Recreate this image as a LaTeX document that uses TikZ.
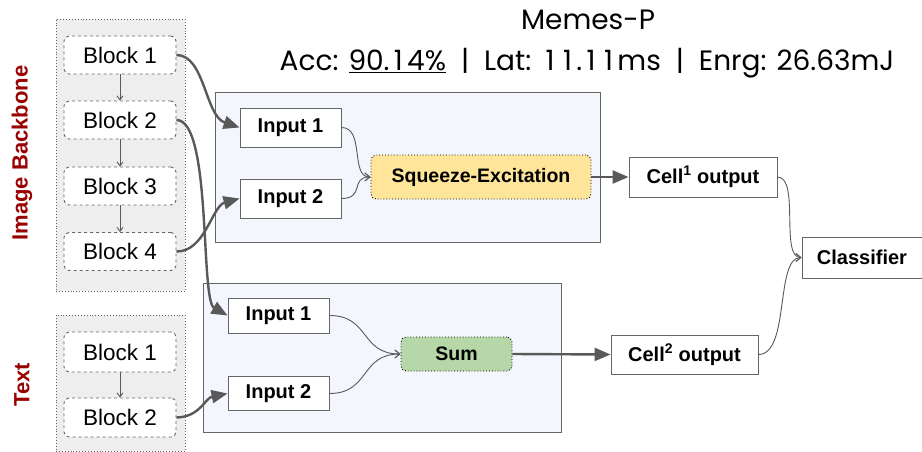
\documentclass[tikz,border=0pt]{standalone}
\usepackage{fontspec}
\setmainfont{Liberation Sans}
\newfontfamily\titlefont{Poppins}
\usetikzlibrary{arrows.meta}
\newlength\digw
\newcommand\wone{\makebox[\digw]{1}}
\definecolor{agray}{HTML}{595959}
\definecolor{bgray}{HTML}{666666}
\definecolor{grpfill}{HTML}{EEEEEE}
\definecolor{cellfill}{HTML}{F3F6FC}
\definecolor{sefill}{HTML}{FFE599}
\definecolor{sumfill}{HTML}{B6D7A8}
\definecolor{darkred}{HTML}{990000}
\tikzset{
  grp/.style={draw=bgray, dotted, line width=0.9pt, fill=grpfill},
  blockbox/.style={draw=bgray, dashed, line width=0.9pt, fill=white, rounded corners=5pt,
    minimum width=112pt, minimum height=38pt, inner sep=0pt, font=\fontsize{22.5}{25}\selectfont},
  cellbox/.style={draw=bgray, line width=0.9pt, fill=cellfill},
  inbox/.style={draw=bgray, line width=0.9pt, fill=white, minimum width=101pt, inner sep=0pt,
    font=\bfseries\fontsize{20}{23}\selectfont},
  opbox/.style={draw=black, dotted, line width=0.9pt, rounded corners=5pt, inner sep=0pt,
    font=\bfseries\fontsize{19.5}{22}\selectfont},
  outbox/.style={draw=bgray, line width=0.9pt, fill=white, inner sep=0pt,
    font=\bfseries\fontsize{20}{23}\selectfont},
  sidelabel/.style={rotate=90, text=darkred, font=\bfseries\fontsize{22}{24}\selectfont},
  bigarrow/.style={draw=agray, line width=2.4pt, -{Triangle[length=16pt,width=13pt]}},
  thinarrow/.style={draw=agray, line width=0.9pt, -{Straight Barb[length=5pt,width=8pt]}},
  vararrow/.style={draw=agray, line width=0.9pt, -{Straight Barb[length=4pt,width=6pt]}},
}
\begin{document}
\begin{tikzpicture}[x=1pt, y=-1pt]
\useasboundingbox (0,0) rectangle (922,452);
% groups
\node[grp, minimum width=129pt, minimum height=272pt] (g1) at (120.5,155) {};
\node[grp, minimum width=129pt, minimum height=136pt] (g2) at (120.5,383) {};
\node[sidelabel] (lblimg) at (22,153) {Image Backbone};
\node[sidelabel] (lbltxt) at (22,385) {Text};
% image blocks
\node[blockbox] (b1) at (120,55) {Block 1};
\node[blockbox] (b2) at (120,120) {Block 2};
\node[blockbox] (b3) at (120,186) {Block 3};
\node[blockbox] (b4) at (120,251.5) {Block 4};
% text blocks
\node[blockbox, minimum height=40pt] (t1) at (120,352) {Block 1};
\node[blockbox, minimum height=39pt] (t2) at (120,417.5) {Block 2};
\draw[vararrow] (b1) -- (b2);
\draw[vararrow] (b2) -- (b3);
\draw[vararrow] (b3) -- (b4);
\draw[vararrow] (t1) -- (t2);
% cell 1
\node[cellbox, minimum width=385pt, minimum height=150pt] (c1) at (407.5,167) {};
\node[inbox, minimum height=39pt] (c1i1) at (290.5,127.5) {Input 1};
\node[inbox, minimum height=39pt] (c1i2) at (290.5,198.5) {Input 2};
\node[opbox, fill=sefill, minimum width=220pt, minimum height=44pt] (se) at (481,177) {Squeeze-Excitation};
% cell 2
\node[cellbox, minimum width=358pt, minimum height=149pt] (c2) at (382,357.5) {};
\node[inbox, minimum height=35pt] (c2i1) at (278.5,315.5) {Input 1};
\node[inbox, minimum height=34pt] (c2i2) at (278.5,393.5) {Input 2};
\node[opbox, fill=sumfill, minimum width=111pt, minimum height=34pt] (sum) at (456.5,354) {Sum};
% outputs
\node[outbox, minimum width=148pt, minimum height=40pt] (o1) at (703,177) {Cell\textsuperscript{1} output};
\node[outbox, minimum width=147pt, minimum height=39pt] (o2) at (684.5,354.5) {Cell\textsuperscript{2} output};
\node[outbox, minimum width=120pt, minimum height=41pt] (cls) at (862,257.5) {Classifier};
% title
\node[font=\titlefont\fontsize{28}{32}\selectfont] (title) at (588,20) {Memes-P};
\node[font=\titlefont\fontsize{28}{32}\selectfont] (metrics) at (587,63) {\settowidth{\digw}{0}Acc: \underline{90.\wone4\%}\ \ |\ \ Lat: \wone\wone.\wone\wone ms\ \ |\ \ Enrg: 26.63mJ};
% thick connectors
\draw[bigarrow] (b1.east) .. controls (205,55) and (205,116) .. (c1i1.west);
\draw[bigarrow] (b4.east) .. controls (205,252) and (212,206) .. (c1i2.west);
\draw[bigarrow] (b2.east) .. controls (212,120) and (200,300) .. (c2i1.west);
\draw[bigarrow] (t2.east) .. controls (200,417) and (205,398) .. (c2i2.west);
\draw[bigarrow] (se.east) -- (o1.west);
\draw[bigarrow] (sum.east) -- (o2.west);
% thin connectors
\draw[thinarrow] (c1i1.east) .. controls (365,127.5) and (350,177) .. (se.west);
\draw[thinarrow] (c1i2.east) .. controls (365,198.5) and (350,177) .. (se.west);
\draw[thinarrow] (c2i1.east) .. controls (370,315.5) and (360,354) .. (sum.west);
\draw[thinarrow] (c2i2.east) .. controls (370,393.5) and (360,354) .. (sum.west);
\draw[thinarrow] (o1.east) .. controls (800,177) and (780,257.5) .. (cls.west);
\draw[thinarrow] (o2.east) .. controls (790,354.5) and (775,257.5) .. (cls.west);
\end{tikzpicture}
\end{document}
